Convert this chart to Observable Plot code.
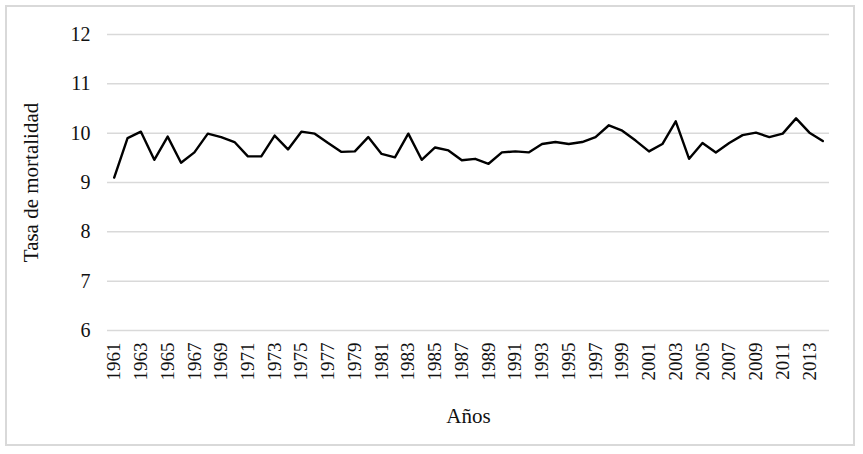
<!DOCTYPE html>
<html>
<head>
<meta charset="utf-8">
<script src="https://cdn.jsdelivr.net/npm/d3@7"></script>
<script src="https://cdn.jsdelivr.net/npm/@observablehq/plot@0.6"></script>
<style>
  html, body { margin: 0; padding: 0; background: #fff; }
  #wrap { position: relative; width: 863px; height: 454px; }
  #border { position: absolute; left: 5px; top: 5px; width: 850px; height: 441px; border: 2px solid #d9d9d9; box-sizing: border-box; pointer-events: none; }
  #wrap svg text { font-family: 'Liberation Serif', 'Times New Roman', serif !important; font-size: 20px !important; fill: #111; }
  #wrap svg g[aria-label="x-axis tick label"] text { font-size: 19px !important; }
  #wrap svg g[aria-label="y-axis label"] text, #wrap svg g[aria-label="x-axis label"] text { font-size: 21px !important; }
</style>
</head>
<body>
<div id="wrap"><div id="border"></div></div>
<script>
const years = d3.range(1961, 2015);
const rates = [
  9.10, 9.90, 10.03, 9.46, 9.93, 9.40, 9.61, 9.99, 9.92, 9.82,
  9.53, 9.53, 9.95, 9.67, 10.03, 9.99, 9.80, 9.62, 9.63, 9.92,
  9.58, 9.51, 9.99, 9.46, 9.71, 9.65, 9.45, 9.48, 9.38, 9.61,
  9.63, 9.61, 9.78, 9.82, 9.78, 9.82, 9.92, 10.16, 10.05, 9.85,
  9.63, 9.78, 10.24, 9.48, 9.80, 9.61, 9.80, 9.96, 10.01, 9.92,
  9.99, 10.30, 10.01, 9.84
];
const yTicks = [6, 7, 8, 9, 10, 11, 12];
const xTickLabels = years.filter((y, i) => i % 2 === 0);
const data = years.map((y, i) => ({year: y, rate: rates[i]}));

const chart = Plot.plot({
  width: 863,
  height: 454,
  marginTop: 34,
  marginBottom: 124,
  marginLeft: 107,
  marginRight: 34,
  style: {fontFamily: "'Liberation Serif', 'Times New Roman', serif", color: "#111", background: "transparent"},
  x: {type: "linear", domain: [years[0] - 0.5, years[years.length - 1] + 0.5]},
  y: {domain: [6, 12]},
  marks: [
    Plot.ruleY(yTicks, {stroke: "#d9d9d9", strokeWidth: 1.5}),
    Plot.axisY({ticks: yTicks, tickFormat: d => String(d), tickSize: 0, tickPadding: 17, label: "Tasa de mortalidad", labelAnchor: "center", labelArrow: "none", labelOffset: 84}),
    Plot.axisX({ticks: xTickLabels, tickFormat: d => String(d), tickSize: 0, tickPadding: 12, tickRotate: -90, label: "Años", labelAnchor: "center", labelArrow: "none", labelOffset: 92}),
    Plot.line(data, {x: "year", y: "rate", stroke: "#000", strokeWidth: 2.4})
  ]
});
document.getElementById("wrap").prepend(chart);
chart.style.position = "absolute";
chart.style.left = "0";
chart.style.top = "0";
</script>
</body>
</html>
